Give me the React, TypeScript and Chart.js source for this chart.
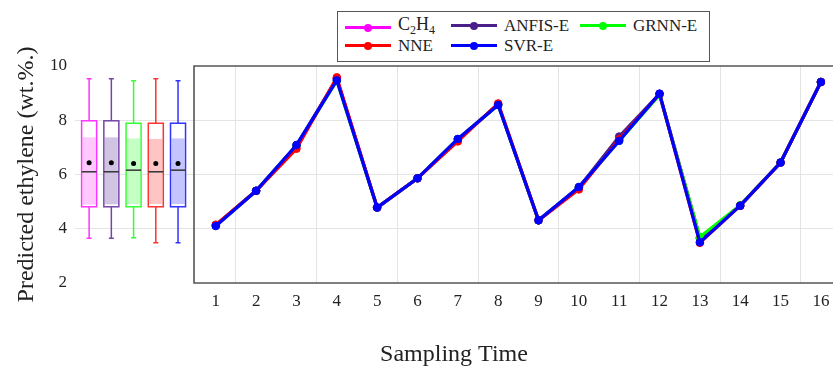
import React, { useEffect, useRef } from 'react';
import { Chart, registerables } from 'chart.js';

Chart.register(...registerables);

// ---- data ----
const SAMPLES = [1, 2, 3, 4, 5, 6, 7, 8, 9, 10, 11, 12, 13, 14, 15, 16];
const X_TICK_LABELS = ['1', '2', '3', '4', '5', '6', '7', '8', '9', '10', '11', '12', '13', '14', '15', '16'];
const Y_TICKS = [2, 4, 6, 8, 10];

const C2H4 = [4.12, 5.40, 7.05, 9.53, 4.78, 5.86, 7.30, 8.58, 4.31, 5.52, 7.30, 8.97, 3.65, 4.85, 6.44, 9.41];
const ANFIS_E = [4.12, 5.40, 7.07, 9.53, 4.78, 5.86, 7.30, 8.57, 4.31, 5.52, 7.40, 8.97, 3.65, 4.85, 6.44, 9.41];
const GRNN_E = [4.12, 5.40, 7.07, 9.46, 4.78, 5.86, 7.30, 8.57, 4.31, 5.52, 7.25, 8.93, 3.70, 4.87, 6.44, 9.41];
const NNE = [4.15, 5.40, 6.95, 9.58, 4.78, 5.86, 7.22, 8.62, 4.31, 5.45, 7.30, 8.97, 3.48, 4.85, 6.44, 9.41];
const SVR_E = [4.10, 5.40, 7.09, 9.47, 4.78, 5.86, 7.31, 8.56, 4.31, 5.54, 7.24, 8.98, 3.50, 4.85, 6.44, 9.41];

// box plot statistics (one entry per series, same order as legend)
const BOX_MAX = [9.53, 9.53, 9.46, 9.53, 9.46];
const BOX_Q3 = [7.98, 7.98, 7.89, 7.89, 7.89];
const BOX_FILL_TOP = [7.37, 7.37, 7.33, 7.31, 7.33];
const BOX_MEAN = [6.43, 6.43, 6.41, 6.41, 6.41];
const BOX_MEDIAN = [6.10, 6.10, 6.16, 6.10, 6.16];
const BOX_FILL_BOTTOM = [4.89, 4.90, 4.91, 4.91, 4.91];
const BOX_Q1 = [4.81, 4.81, 4.81, 4.81, 4.81];
const BOX_MIN = [3.65, 3.65, 3.67, 3.48, 3.48];

// ---- styles ----
const SERIES = [
  { key: 'C2H4', data: C2H4, color: '#ff00ff', boxLine: '#ff33ff', boxFill: '#ffc8ff', order: 4 },
  { key: 'ANFIS-E', data: ANFIS_E, color: '#4a1f8a', boxLine: '#7446a8', boxFill: '#d0c4e2', order: 3 },
  { key: 'GRNN-E', data: GRNN_E, color: '#00ff00', boxLine: '#33ff33', boxFill: '#c4ffc4', order: 2 },
  { key: 'NNE', data: NNE, color: '#ff0000', boxLine: '#ff3333', boxFill: '#ffc4c4', order: 1 },
  { key: 'SVR-E', data: SVR_E, color: '#0000ff', boxLine: '#3333ff', boxFill: '#c4c4ff', order: 0 },
];

const FONT = '"Liberation Serif", "Times New Roman", serif';
const X_MIN = -2.49;
const X_MAX = 16.3;
const FRAME_START = 0.46;
const BOX_START = -2.14;
const BOX_STEP = 0.551;
const BOX_HALF = 0.186;

const framePlugin = {
  id: 'frame',
  beforeDatasetsDraw(chart: any) {
    const { ctx, chartArea, scales } = chart;
    const left = scales.x.getPixelForValue(FRAME_START);
    ctx.save();
    ctx.strokeStyle = '#555555';
    ctx.lineWidth = 1.6;
    ctx.beginPath();
    ctx.moveTo(chartArea.right + 5, chartArea.top);
    ctx.lineTo(left, chartArea.top);
    ctx.lineTo(left, chartArea.bottom);
    ctx.lineTo(chartArea.right + 5, chartArea.bottom);
    ctx.stroke();
    ctx.restore();
  },
};

const boxPlugin = {
  id: 'boxes',
  afterDatasetsDraw(chart: any) {
    const { ctx, scales } = chart;
    const xs = scales.x;
    const ys = scales.y;
    ctx.save();
    SERIES.forEach((s, i) => {
      const c = BOX_START + i * BOX_STEP;
      const xc = xs.getPixelForValue(c);
      const xl = xs.getPixelForValue(c - BOX_HALF);
      const xr = xs.getPixelForValue(c + BOX_HALF);
      const yMax = ys.getPixelForValue(BOX_MAX[i]);
      const yQ3 = ys.getPixelForValue(BOX_Q3[i]);
      const yFT = ys.getPixelForValue(BOX_FILL_TOP[i]);
      const yMean = ys.getPixelForValue(BOX_MEAN[i]);
      const yMed = ys.getPixelForValue(BOX_MEDIAN[i]);
      const yFB = ys.getPixelForValue(BOX_FILL_BOTTOM[i]);
      const yQ1 = ys.getPixelForValue(BOX_Q1[i]);
      const yMin = ys.getPixelForValue(BOX_MIN[i]);
      ctx.fillStyle = s.boxFill;
      ctx.fillRect(xl + 1, yFT, xr - xl - 2, yFB - yFT);
      ctx.strokeStyle = s.boxLine;
      ctx.lineWidth = 1.5;
      ctx.strokeRect(xl, yQ3, xr - xl, yQ1 - yQ3);
      ctx.beginPath();
      ctx.moveTo(xc, yQ3);
      ctx.lineTo(xc, yMax);
      ctx.moveTo(xc - 2.5, yMax);
      ctx.lineTo(xc + 2.5, yMax);
      ctx.moveTo(xc, yQ1);
      ctx.lineTo(xc, yMin);
      ctx.moveTo(xc - 2.5, yMin);
      ctx.lineTo(xc + 2.5, yMin);
      ctx.stroke();
      ctx.strokeStyle = '#333333';
      ctx.lineWidth = 1.5;
      ctx.beginPath();
      ctx.moveTo(xl, yMed);
      ctx.lineTo(xr, yMed);
      ctx.stroke();
      ctx.fillStyle = '#000000';
      ctx.beginPath();
      ctx.arc(xc, yMean, 2.5, 0, Math.PI * 2);
      ctx.fill();
    });
    ctx.restore();
  },
};

function LegendSymbol({ color }: { color: string }) {
  return (
    <span style={{ position: 'relative', display: 'inline-block', width: 46, height: 10, marginRight: 7, verticalAlign: 'middle' }}>
      <span style={{ position: 'absolute', left: 0, right: 0, top: 3.5, height: 3, background: color }} />
      <span style={{ position: 'absolute', left: 19, top: 1, width: 8, height: 8, borderRadius: 4, background: color }} />
    </span>
  );
}

export default function App() {
  const ref = useRef<HTMLCanvasElement | null>(null);

  useEffect(() => {
    if (!ref.current) return;
    const chart = new Chart(ref.current, {
      type: 'line',
      data: {
        datasets: SERIES.map((s) => ({
          label: s.key,
          data: SAMPLES.map((x, i) => ({ x, y: s.data[i] })),
          borderColor: s.color,
          backgroundColor: s.color,
          pointBackgroundColor: s.color,
          pointBorderColor: s.color,
          borderWidth: 3.2,
          pointRadius: 3.8,
          pointBorderWidth: 1,
          tension: 0,
          order: s.order,
        })),
      },
      options: {
        animation: false,
        responsive: false,
        layout: { autoPadding: false, padding: { top: 66, left: 0, right: 0, bottom: 0 } },
        plugins: { legend: { display: false }, tooltip: { enabled: false } },
        scales: {
          x: {
            type: 'linear',
            min: X_MIN,
            max: X_MAX,
            afterBuildTicks: (scale: any) => {
              const t: any[] = [];
              SAMPLES.forEach((v) => {
                t.push({ value: v });
                t.push({ value: v + 0.5 });
              });
              scale.ticks = t.filter((k) => k.value <= 16);
            },
            afterFit: (scale: any) => {
              scale.height = 84;
              scale.paddingLeft = 0;
              scale.paddingRight = 0;
            },
            border: { display: false },
            grid: {
              drawTicks: false,
              lineWidth: 1,
              color: (ctx: any) => {
                const v = ctx.tick ? ctx.tick.value : 0;
                return Math.abs(((v - 1.5) % 2)) < 1e-6 ? '#e4e4e4' : 'rgba(0,0,0,0)';
              },
            },
            ticks: {
              autoSkip: false,
              maxRotation: 0,
              padding: 8,
              color: '#222222',
              font: { family: FONT, size: 17 },
              callback: (v: any) => {
                const idx = SAMPLES.indexOf(Number(v));
                return idx >= 0 ? X_TICK_LABELS[idx] : '';
              },
            },
            title: {
              display: true,
              text: 'Sampling Time',
              color: '#222222',
              font: { family: FONT, size: 24, lineHeight: 1 },
              padding: { top: 0, bottom: 0 },
            },
          },
          y: {
            type: 'linear',
            min: 2,
            max: 10,
            afterBuildTicks: (scale: any) => {
              scale.ticks = Y_TICKS.map((v) => ({ value: v }));
            },
            afterFit: (scale: any) => {
              scale.width = 75;
              scale.paddingTop = 0;
              scale.paddingBottom = 0;
            },
            border: { display: false },
            grid: {
              drawTicks: false,
              lineWidth: 1,
              color: (ctx: any) => {
                const v = ctx.tick ? ctx.tick.value : 0;
                return v === 2 || v === 10 ? 'rgba(0,0,0,0)' : '#e4e4e4';
              },
            },
            ticks: {
              padding: 8,
              color: '#222222',
              font: { family: FONT, size: 17 },
            },
            title: {
              display: true,
              text: 'Predicted ethylene (wt.%.)',
              color: '#222222',
              font: { family: FONT, size: 24, lineHeight: 1 },
              padding: { top: 15, bottom: 0 },
            },
          },
        },
      } as any,
      plugins: [framePlugin, boxPlugin],
    });
    return () => chart.destroy();
  }, []);

  const rowStyle: React.CSSProperties = { position: 'absolute', display: 'flex', alignItems: 'center', whiteSpace: 'nowrap' };
  const textStyle: React.CSSProperties = { fontFamily: FONT, fontSize: 17, color: '#222222', lineHeight: '17px' };

  return (
    <div style={{ position: 'fixed', left: 0, top: 0, width: 833, height: 367, background: '#ffffff', overflow: 'hidden' }}>
      <canvas ref={ref} width={833} height={367} style={{ display: 'block', position: 'absolute', left: 0, top: 0 }} />
      <div
        style={{
          position: 'absolute',
          left: 337,
          top: 11,
          width: 371,
          height: 49,
          border: '1.5px solid #555555',
          background: '#ffffff',
        }}
      >
        <div style={{ ...rowStyle, left: 7, top: 4 }}>
          <LegendSymbol color={SERIES[0].color} />
          <span style={{ ...textStyle, fontSize: 18 }}>
            C<sub style={{ fontSize: 12, verticalAlign: -4 }}>2</sub>H<sub style={{ fontSize: 12, verticalAlign: -4 }}>4</sub>
          </span>
        </div>
        <div style={{ ...rowStyle, left: 113, top: 5 }}>
          <LegendSymbol color={SERIES[1].color} />
          <span style={textStyle}>{SERIES[1].key}</span>
        </div>
        <div style={{ ...rowStyle, left: 242, top: 5 }}>
          <LegendSymbol color={SERIES[2].color} />
          <span style={textStyle}>{SERIES[2].key}</span>
        </div>
        <div style={{ ...rowStyle, left: 7, top: 25 }}>
          <LegendSymbol color={SERIES[3].color} />
          <span style={textStyle}>{SERIES[3].key}</span>
        </div>
        <div style={{ ...rowStyle, left: 113, top: 25 }}>
          <LegendSymbol color={SERIES[4].color} />
          <span style={textStyle}>{SERIES[4].key}</span>
        </div>
      </div>
    </div>
  );
}
